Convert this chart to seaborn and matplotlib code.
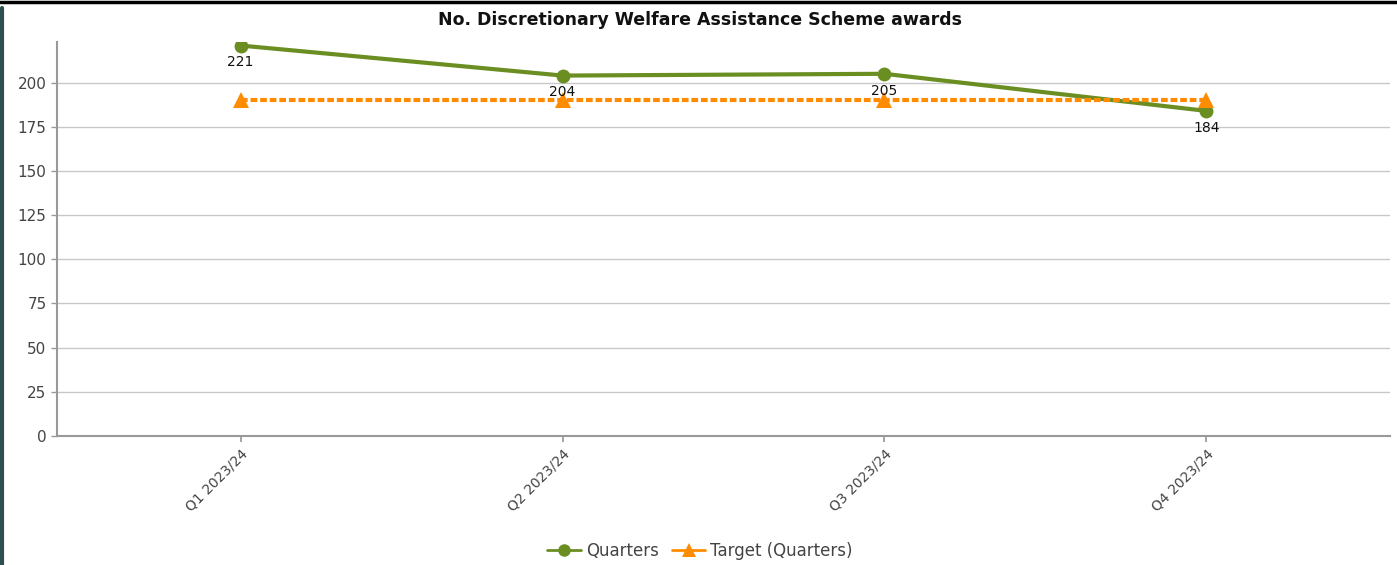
import matplotlib
matplotlib.use("Agg")
import matplotlib.pyplot as plt
import seaborn as sns
import pandas as pd
from matplotlib.lines import Line2D

# values
quarters = ["Q1 2023/24", "Q2 2023/24", "Q3 2023/24", "Q4 2023/24"]
awards = [221, 204, 205, 184]
target = [190, 190, 190, 190]

green = "#6b8e23"
orange = "#ff8c00"

sns.set_theme(style="white")
plt.rcParams["font.family"] = ["DejaVu Sans"]

df = pd.DataFrame({"quarter": quarters, "awards": awards, "target": target})
df["pos"] = range(len(df))

fig = plt.figure(figsize=(13.97, 5.65), dpi=100)
ax = fig.add_axes([57 / 1397, 1 - 436 / 565, (1390 - 57) / 1397, (436 - 42) / 565])

sns.lineplot(data=df, x="pos", y="awards", ax=ax, color=green, linewidth=3,
             marker="o", markersize=10, markeredgewidth=0, zorder=3)
sns.lineplot(data=df, x="pos", y="target", ax=ax, color=orange, linewidth=3,
             linestyle=(0, (1.6, 0.7)), marker="^", markersize=12,
             markeredgewidth=0, zorder=4)

for i, v in enumerate(awards):
    ax.annotate(str(v), (i, v), xytext=(0, -7), textcoords="offset points",
                ha="center", va="top", fontsize=10, color="#111111", zorder=5)

ax.set_xlim(-0.57, 3.57)
ax.set_ylim(0, 223)
ax.set_yticks(range(0, 201, 25))
ax.set_xticks(df["pos"])
ax.set_xticklabels(quarters, rotation=45, ha="right", rotation_mode="anchor",
                   fontsize=10, color="#444444")
ax.tick_params(axis="y", labelsize=11, colors="#444444", length=4, width=1,
               left=True, color="#999999")
ax.tick_params(axis="x", length=4, bottom=True, color="#999999")
ax.set_xlabel("")
ax.set_ylabel("")
ax.yaxis.grid(True, color="#c8c8c8", linewidth=1)
ax.set_axisbelow(True)
for s in ["top", "right"]:
    ax.spines[s].set_visible(False)
for s in ["left", "bottom"]:
    ax.spines[s].set_color("#999999")
    ax.spines[s].set_linewidth(1.5)

fig.text(700 / 1397, 1 - 20 / 565, "No. Discretionary Welfare Assistance Scheme awards",
         ha="center", va="center", fontsize=12.5, fontweight="bold", color="#111111")

handles = [
    Line2D([], [], color=green, linewidth=2, marker="o", markersize=9, markeredgewidth=0),
    Line2D([], [], color=orange, linewidth=2, marker="^", markersize=10, markeredgewidth=0),
]
fig.legend(handles, ["Quarters", "Target (Quarters)"], loc="center",
           bbox_to_anchor=(700 / 1397, 1 - 551 / 565), ncol=2, frameon=False,
           fontsize=12, handlelength=2, handletextpad=0.3, columnspacing=0.8,
           labelcolor="#444444")

# frame edges seen in the screenshot
fig.add_artist(Line2D([0, 1], [1 - 1.5 / 565] * 2, color="black", linewidth=2.5))
fig.add_artist(Line2D([1.5 / 1397] * 2, [0, 1 - 8 / 565], color="#2f4f4f", linewidth=3))

fig.savefig("out.png", dpi=100)
